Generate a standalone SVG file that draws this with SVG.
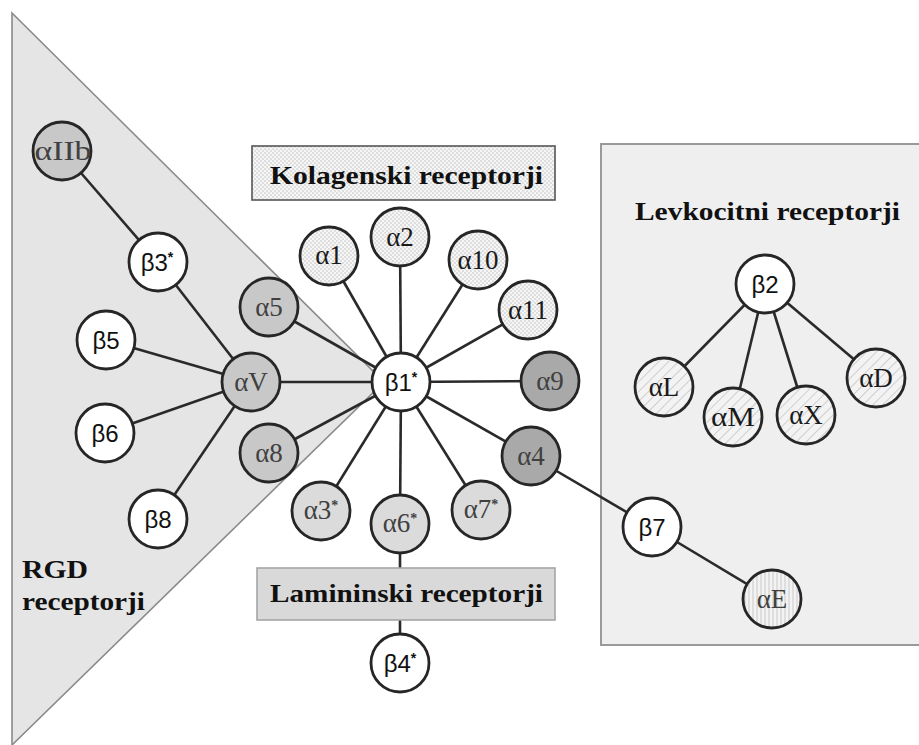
<svg xmlns="http://www.w3.org/2000/svg" width="919" height="745" viewBox="0 0 919 745">
<defs>
<pattern id="checker" width="4" height="4" patternUnits="userSpaceOnUse">
<rect width="4" height="4" fill="#f6f6f6"/>
<rect x="0" y="0" width="2" height="2" fill="#dedede"/>
<rect x="2" y="2" width="2" height="2" fill="#dedede"/>
</pattern>
<pattern id="diag" width="7" height="7" patternUnits="userSpaceOnUse" patternTransform="rotate(45)">
<rect width="7" height="7" fill="#f3f3f3"/>
<line x1="0" y1="0" x2="0" y2="7" stroke="#cfcfcf" stroke-width="2"/>
</pattern>
<pattern id="vert" width="4" height="4" patternUnits="userSpaceOnUse">
<rect width="4" height="4" fill="#f3f3f3"/>
<line x1="1" y1="0" x2="1" y2="4" stroke="#d0d0d0" stroke-width="1.2"/>
</pattern>
<style>
.n{stroke:#262626;stroke-width:2.8}
.w{fill:#ffffff}
.g1{fill:#c8c8c8}
.g2{fill:#a9a9a9}
.g3{fill:#dbdbdb}
.ck{fill:url(#checker)}
.dg{fill:url(#diag)}
.vt{fill:url(#vert)}
.al{font-family:"Liberation Serif","Times New Roman",serif;font-size:27px;text-anchor:middle;fill:#1a1a1a}
.alg{fill:#404040}
.be{font-family:"Liberation Sans",Arial,sans-serif;font-size:24px;text-anchor:middle;fill:#111}
.sup{font-size:14px;font-weight:bold}
.c line{stroke:#2a2a2a;stroke-width:2.6}
.title{font-family:"Liberation Serif","Times New Roman",serif;font-weight:bold;font-size:26px;fill:#111}
</style>
</defs>
<rect width="919" height="745" fill="#ffffff"/>
<g id="rgd-region">
<polygon points="12,13 384,382 12,745" fill="#e5e5e5" stroke="#8a8a8a" stroke-width="1.6"/>
<text class="title" x="22" y="578" textLength="66" lengthAdjust="spacingAndGlyphs">RGD</text>
<text class="title" x="22" y="610" textLength="123" lengthAdjust="spacingAndGlyphs">receptorji</text>
</g>
<g id="levkocitni-region">
<rect x="601" y="144" width="330" height="501" fill="#efefef" stroke="#9a9a9a" stroke-width="2"/>
<text class="title" x="635" y="220" textLength="265" lengthAdjust="spacingAndGlyphs">Levkocitni receptorji</text>
</g>
<g id="kolagenski-label">
<rect x="252" y="146" width="303" height="54" fill="url(#checker)" stroke="#555" stroke-width="1.6"/>
<text class="title" x="270" y="184" textLength="273" lengthAdjust="spacingAndGlyphs">Kolagenski receptorji</text>
</g>
<g id="connectors" class="c">
<line x1="62" y1="151" x2="158" y2="262"/>
<line x1="158" y1="262" x2="251" y2="382"/>
<line x1="106" y1="340" x2="251" y2="382"/>
<line x1="105" y1="433" x2="251" y2="382"/>
<line x1="158" y1="519" x2="251" y2="382"/>
<line x1="251" y1="382" x2="401" y2="382"/>
<line x1="401" y1="382" x2="269" y2="307"/>
<line x1="401" y1="382" x2="269" y2="453"/>
<line x1="401" y1="382" x2="329" y2="256"/>
<line x1="401" y1="382" x2="400" y2="237"/>
<line x1="401" y1="382" x2="478" y2="260"/>
<line x1="401" y1="382" x2="528" y2="310"/>
<line x1="401" y1="382" x2="550" y2="381"/>
<line x1="401" y1="382" x2="531" y2="456"/>
<line x1="401" y1="382" x2="321" y2="511"/>
<line x1="401" y1="382" x2="400" y2="524"/>
<line x1="401" y1="382" x2="481" y2="510"/>
<line x1="400" y1="524" x2="400" y2="663"/>
<line x1="531" y1="456" x2="652" y2="527"/>
<line x1="652" y1="527" x2="772" y2="599"/>
<line x1="765" y1="284" x2="664" y2="387"/>
<line x1="765" y1="284" x2="733" y2="417"/>
<line x1="765" y1="284" x2="806" y2="415"/>
<line x1="765" y1="284" x2="876" y2="378"/>
</g>
<g id="lamininski-label">
<rect x="257" y="568" width="298" height="52" fill="#d9d9d9" stroke="#a5a5a5" stroke-width="1.6"/>
<text class="title" x="270" y="602" textLength="273" lengthAdjust="spacingAndGlyphs">Lamininski receptorji</text>
</g>
<g id="aIIb"><circle class="n g1" cx="62" cy="151" r="29"/><text class="al alg" x="63" y="160" textLength="57" lengthAdjust="spacingAndGlyphs">αIIb</text></g>
<g id="b3"><circle class="n w" cx="158" cy="262" r="29"/><text class="be" x="157" y="271">β3<tspan class="sup" dy="-9">*</tspan></text></g>
<g id="b5"><circle class="n w" cx="106" cy="340" r="29"/><text class="be" x="106" y="349">β5</text></g>
<g id="b6"><circle class="n w" cx="105" cy="433" r="29"/><text class="be" x="105" y="442">β6</text></g>
<g id="b8"><circle class="n w" cx="158" cy="519" r="29"/><text class="be" x="158" y="528">β8</text></g>
<g id="aV"><circle class="n g1" cx="251" cy="382" r="29"/><text class="al alg" x="251" y="391">αV</text></g>
<g id="a5"><circle class="n g1" cx="269" cy="307" r="29"/><text class="al alg" x="269" y="316">α5</text></g>
<g id="a8"><circle class="n g1" cx="269" cy="453" r="29"/><text class="al alg" x="269" y="462">α8</text></g>
<g id="b1"><circle class="n w" cx="401" cy="382" r="29"/><text class="be" x="401" y="391">β1<tspan class="sup" dy="-9">*</tspan></text></g>
<g id="a1"><circle class="n ck" cx="329" cy="256" r="29"/><text class="al" x="329" y="264">α1</text></g>
<g id="a2"><circle class="n ck" cx="400" cy="237" r="29"/><text class="al" x="400" y="246">α2</text></g>
<g id="a10"><circle class="n ck" cx="478" cy="260" r="29"/><text class="al" x="478" y="269">α10</text></g>
<g id="a11"><circle class="n ck" cx="528" cy="310" r="29"/><text class="al" x="528" y="319">α11</text></g>
<g id="a9"><circle class="n g2" cx="550" cy="381" r="29"/><text class="al alg" x="550" y="390">α9</text></g>
<g id="a4"><circle class="n g2" cx="531" cy="456" r="29"/><text class="al alg" x="531" y="465">α4</text></g>
<g id="a3"><circle class="n g3" cx="321" cy="511" r="29"/><text class="al alg" x="321" y="519">α3<tspan class="sup" dy="-9">*</tspan></text></g>
<g id="a6"><circle class="n g3" cx="400" cy="524" r="29"/><text class="al alg" x="400" y="532">α6<tspan class="sup" dy="-9">*</tspan></text></g>
<g id="a7"><circle class="n g3" cx="481" cy="510" r="29"/><text class="al alg" x="481" y="518">α7<tspan class="sup" dy="-9">*</tspan></text></g>
<g id="b4"><circle class="n w" cx="400" cy="663" r="29"/><text class="be" x="400" y="672">β4<tspan class="sup" dy="-9">*</tspan></text></g>
<g id="b7"><circle class="n w" cx="652" cy="527" r="29"/><text class="be" x="652" y="536">β7</text></g>
<g id="aE"><circle class="n vt" cx="772" cy="599" r="29"/><text class="al alg" x="772" y="608">αE</text></g>
<g id="b2"><circle class="n w" cx="765" cy="284" r="29"/><text class="be" x="765" y="293">β2</text></g>
<g id="aL"><circle class="n dg" cx="664" cy="387" r="29"/><text class="al" x="664" y="396">αL</text></g>
<g id="aM"><circle class="n dg" cx="733" cy="417" r="29"/><text class="al" x="733" y="426" textLength="44" lengthAdjust="spacingAndGlyphs">αM</text></g>
<g id="aX"><circle class="n dg" cx="806" cy="415" r="29"/><text class="al" x="806" y="424">αX</text></g>
<g id="aD"><circle class="n dg" cx="876" cy="378" r="29"/><text class="al" x="876" y="387">αD</text></g>
</svg>
